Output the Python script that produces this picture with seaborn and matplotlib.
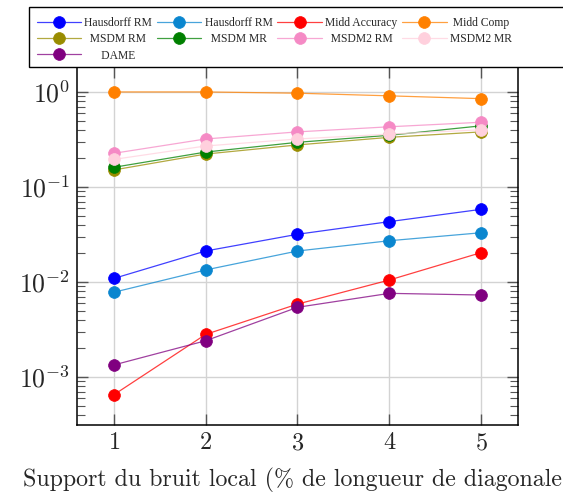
import matplotlib
matplotlib.use("Agg")
import matplotlib.pyplot as plt
import matplotlib.colors as mcolors
from matplotlib.lines import Line2D
from matplotlib.patches import Rectangle
import seaborn as sns

# support du bruit local (% diagonale)
support = [1, 2, 3, 4, 5]

hausdorff_rm_1 = [0.0109, 0.0212, 0.0318, 0.0432, 0.0582]
hausdorff_rm_2 = [0.0078, 0.0134, 0.0212, 0.0272, 0.0330]
midd_accuracy = [0.00065, 0.00281, 0.00586, 0.0105, 0.0204]
midd_comp = [1.0, 1.0, 0.97, 0.91, 0.85]
msdm_rm = [0.151, 0.222, 0.277, 0.333, 0.380]
msdm_mr = [0.161, 0.233, 0.295, 0.350, 0.440]
msdm2_rm = [0.226, 0.320, 0.380, 0.430, 0.480]
msdm2_mr = [0.195, 0.270, 0.320, 0.360, 0.400]
dame = [0.00134, 0.00241, 0.00542, 0.0076, 0.0073]

labels = ["Hausdorff RM", "Hausdorff RM", "Midd Accuracy", "Midd Comp",
          "MSDM RM", "MSDM MR", "MSDM2 RM", "MSDM2 MR", "DAME"]
series = [hausdorff_rm_1, hausdorff_rm_2, midd_accuracy, midd_comp,
          msdm_rm, msdm_mr, msdm2_rm, msdm2_mr, dame]
colors = ["#0000ff", "#0a86cf", "#ff0000", "#ff8000",
          "#998c00", "#008000", "#f58ac5", "#ffd0dd", "#800080"]
# leading spaces so the legend text looks centred like in pgfplots
label_pad = [0, 0, 0, 1, 2, 2, 2, 0, 6]

sns.set_theme(style="ticks")
plt.rcParams["font.family"] = ["cmr10", "DejaVu Serif"]
plt.rcParams["mathtext.fontset"] = "cm"
plt.rcParams["axes.formatter.use_mathtext"] = True

fig = plt.figure(figsize=(5.63, 5.04), dpi=100)
ax = fig.add_axes([77 / 563, 1 - 425 / 504, 441 / 563, 358 / 504])

handles = []
for vals, lab, col, pad in zip(series, labels, colors, label_pad):
    line_col = mcolors.to_rgba(col, 0.75)
    sns.lineplot(x=support, y=vals, ax=ax, color=line_col, linewidth=0.9,
                 marker="o", markersize=8.5, markerfacecolor=col,
                 markeredgecolor=col, markeredgewidth=0.5, legend=False)
    handles.append(Line2D([], [], color=line_col, linewidth=0.9, marker="o",
                          markersize=8.5, markerfacecolor=col,
                          markeredgecolor=col, markeredgewidth=0.5,
                          label=" " * pad + lab))

ax.set_yscale("log")
ax.set_xlim(0.6, 5.4)
ax.set_ylim(3.13e-4, 1.83)
ax.set_xticks(support)
ax.grid(True, which="major", color="#d3d3d3", linewidth=1.0)
ax.set_axisbelow(True)
for s in ax.spines.values():
    s.set_color("black")
    s.set_linewidth(1.1)
ax.tick_params(which="major", direction="in", length=8, width=1.0,
               color="#555555", top=True, right=True, labelsize=17.5, pad=5)
ax.tick_params(axis="y", which="major", labelsize=18.5)
ax.tick_params(which="minor", direction="in", length=5.5, width=0.8,
               color="#555555", top=False, right=True)
ax.tick_params(axis="x", which="minor", bottom=False, top=False)
ax.set_xlabel("Support du bruit local (% de longueur de diagonale)",
              fontsize=17.2, labelpad=10)
ax.set_ylabel("")

# row-wise legend order (matplotlib fills columns first)
order = [0, 4, 8, 1, 5, 2, 6, 3, 7]
leg = fig.legend(handles=[handles[i] for i in order], ncol=4,
                 loc="upper left",
                 bbox_to_anchor=(32 / 563, 1 - 12 / 504),
                 prop={"family": "Liberation Serif", "size": 8.4},
                 frameon=False,
                 handlelength=3.8, handletextpad=0.3, columnspacing=0.4,
                 labelspacing=0.38, borderpad=0.4, borderaxespad=0)

# legend box runs past the right edge, as in the original
fig.patches.append(Rectangle((29 / 563, 1 - 67 / 504), 600 / 563, 60 / 504,
                             transform=fig.transFigure, fill=True,
                             facecolor="white", edgecolor="black",
                             linewidth=1.0, zorder=0))

fig.savefig("out.png", dpi=100)
